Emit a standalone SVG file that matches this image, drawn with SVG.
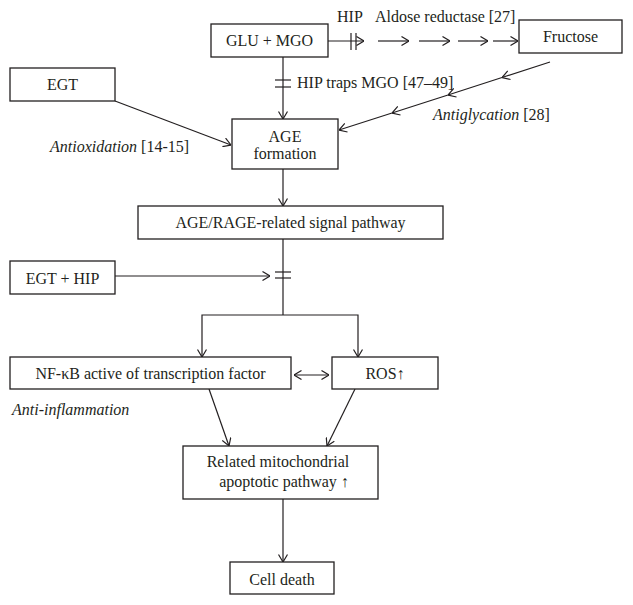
<svg xmlns="http://www.w3.org/2000/svg" width="633" height="605" viewBox="0 0 633 605">
<style>
.box{fill:#fff;stroke:#231f20;stroke-width:1.3}
.ln{fill:none;stroke:#231f20;stroke-width:1.2}
.ar{marker-end:url(#ah)}
text{font-family:"Liberation Serif","Times New Roman",serif;font-size:16px;fill:#231f20}
.c{text-anchor:middle}
.i{font-style:italic}
</style>
<defs>
<marker id="ah" viewBox="0 0 8 10" refX="8" refY="5" markerWidth="8" markerHeight="10" markerUnits="userSpaceOnUse" orient="auto-start-reverse">
<path d="M0.5,0.5 L8,5 L0.5,9.5" fill="none" stroke="#231f20" stroke-width="1.2"/>
</marker>
</defs>
<rect width="633" height="605" fill="#fff"/>
<g id="connectors">
<line class="ln" x1="328" y1="41" x2="364" y2="41" marker-end="url(#ah)"/>
<line class="ln" x1="351" y1="33" x2="351" y2="50"/>
<line class="ln" x1="356" y1="33" x2="356" y2="50"/>
<line class="ln" x1="378" y1="41" x2="409" y2="41" marker-end="url(#ah)"/>
<line class="ln" x1="419" y1="41" x2="450" y2="41" marker-end="url(#ah)"/>
<line class="ln" x1="458" y1="41" x2="488" y2="41" marker-end="url(#ah)"/>
<line class="ln" x1="493" y1="41" x2="518" y2="41" marker-end="url(#ah)"/>
<polyline class="ln" points="550,62 502,77.5 448,95 392,113 339,130" marker-mid="url(#ah)" marker-end="url(#ah)"/>
<line class="ln" x1="283" y1="57" x2="283" y2="119" marker-end="url(#ah)"/>
<line class="ln" x1="275" y1="80" x2="291" y2="80"/>
<line class="ln" x1="275" y1="87" x2="291" y2="87"/>
<line class="ln" x1="115" y1="101" x2="231" y2="145" marker-end="url(#ah)"/>
<line class="ln" x1="283" y1="169" x2="283" y2="206" marker-end="url(#ah)"/>
<line class="ln" x1="283" y1="239" x2="283" y2="315"/>
<line class="ln" x1="275" y1="272" x2="291" y2="272"/>
<line class="ln" x1="275" y1="278" x2="291" y2="278"/>
<line class="ln" x1="115" y1="276" x2="270" y2="276" marker-end="url(#ah)"/>
<path class="ln" d="M283,315 H202 V357" marker-end="url(#ah)"/>
<path class="ln" d="M283,315 H358 V357" marker-end="url(#ah)"/>
<line class="ln" x1="294" y1="375" x2="329" y2="375" marker-start="url(#ah)" marker-end="url(#ah)"/>
<line class="ln" x1="209" y1="389" x2="229" y2="446" marker-end="url(#ah)"/>
<line class="ln" x1="355" y1="389" x2="327" y2="446" marker-end="url(#ah)"/>
<line class="ln" x1="283" y1="499" x2="283" y2="562" marker-end="url(#ah)"/>
</g>
<g id="glu-mgo"><rect class="box" x="211" y="24" width="117" height="33"/><text class="c" x="269.5" y="46">GLU + MGO</text></g>
<g id="hip-label"><text x="337" y="22">HIP</text></g>
<g id="aldose-label"><text x="375" y="22">Aldose reductase [27]</text></g>
<g id="fructose"><rect class="box" x="519" y="20" width="103" height="33"/><text class="c" x="570.5" y="42">Fructose</text></g>
<g id="hip-traps-label"><text x="297" y="88">HIP traps MGO [47–49]</text></g>
<g id="antiglycation-label"><text x="433" y="120"><tspan class="i">Antiglycation</tspan> [28]</text></g>
<g id="egt"><rect class="box" x="10" y="68" width="105" height="33"/><text class="c" x="62.5" y="90">EGT</text></g>
<g id="antioxidation-label"><text x="50" y="152"><tspan class="i">Antioxidation</tspan> [14-15]</text></g>
<g id="age"><rect class="box" x="232" y="119" width="106" height="50"/><text class="c" x="285" y="142">AGE</text><text class="c" x="285" y="159">formation</text></g>
<g id="signal"><rect class="box" x="138" y="206" width="305" height="33"/><text class="c" x="290.5" y="228">AGE/RAGE-related signal pathway</text></g>
<g id="egt-hip"><rect class="box" x="10" y="261" width="105" height="33"/><text class="c" x="62.5" y="284">EGT + HIP</text></g>
<g id="nfkb"><rect class="box" x="10" y="357" width="281" height="32"/><text class="c" x="150.5" y="379">NF-κB active of transcription factor</text></g>
<g id="ros"><rect class="box" x="332" y="357" width="106" height="32"/><text class="c" x="385" y="379">ROS↑</text></g>
<g id="anti-inflammation-label"><text class="i" x="12" y="415">Anti-inflammation</text></g>
<g id="mito"><rect class="box" x="183" y="446" width="195" height="53"/><text class="c" x="278" y="467">Related mitochondrial</text><text class="c" x="284" y="487">apoptotic pathway ↑</text></g>
<g id="cell-death"><rect class="box" x="230" y="562" width="104" height="32"/><text class="c" x="282" y="585">Cell death</text></g>
</svg>
